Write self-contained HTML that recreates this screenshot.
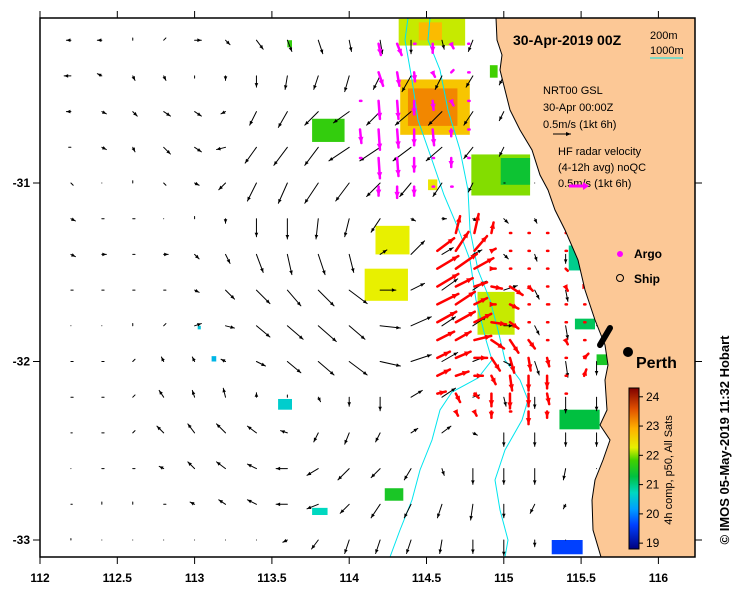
<!DOCTYPE html>
<html><head><meta charset="utf-8"><style>
html,body{margin:0;padding:0;background:#fff;}
svg{display:block;font-family:"Liberation Sans",Arial,sans-serif;}
</style></head><body>
<svg id="map" width="739" height="592" viewBox="0 0 739 592">
  <rect x="0" y="0" width="739" height="592" fill="#fff"/>
  <g id="sst"></g>
  <g id="bathy">
    <polyline fill="none" stroke="#00e5ee" stroke-width="1" points="430,18 428,40 440,70 448,110 460,150 468,190 470,230 478,270 490,300 498,330 505,360 520,380 528,400 522,420 505,450 495,480 500,510 508,540 505,557"/>
    <polyline fill="none" stroke="#00e5ee" stroke-width="1" points="408,18 405,40 412,80 418,120 432,160 444,195 458,228 470,260 476,300 486,340 492,360 478,378 452,392 440,410 432,440 420,470 412,500 400,530 390,557"/>
  </g>
  <g id="model-arrows"></g>
  <g id="mag-arrows"></g>
  <g id="red-arrows"></g>
  <polygon fill="#fcc896" stroke="#000" stroke-width="1" points="496,18 497,40 502,55 500,70 505,90 510,110 520,130 532,150 540,175 548,190 555,210 565,230 578,260 585,290 595,320 605,345 608,365 605,380 607,410 600,425 610,440 603,460 595,480 592,500 593,530 601,557 695,557 695,18"/>
  <line x1="600" y1="345" x2="610" y2="328" stroke="#000" stroke-width="6" stroke-linecap="round"/>
  <circle cx="628" cy="352" r="5" fill="#000"/>
  <text x="636" y="368" font-size="16" font-weight="bold">Perth</text>

  <text x="513" y="45" font-size="14" font-weight="bold">30-Apr-2019 00Z</text>
  <text x="650" y="39" font-size="11">200m</text>
  <text x="650" y="54" font-size="11">1000m</text>
  <line x1="650" y1="58" x2="683" y2="58" stroke="#00e5ee" stroke-width="1"/>

  <text x="543" y="94" font-size="11">NRT00 GSL</text>
  <text x="543" y="111" font-size="11">30-Apr 00:00Z</text>
  <text x="543" y="128" font-size="11">0.5m/s (1kt 6h)</text>
  <line x1="553" y1="134" x2="571" y2="134" stroke="#000" stroke-width="1"/>
  <path d="M571,134 L566,132 L566,136 Z" fill="#000"/>
  <text x="558" y="155" font-size="11">HF radar velocity</text>
  <text x="558" y="171" font-size="11">(4-12h avg) noQC</text>
  <text x="558" y="187" font-size="11">0.5m/s (1kt 6h)</text>
  <line x1="569" y1="186" x2="584" y2="186" stroke="#ff00ff" stroke-width="3"/>
  <path d="M589,186 L583,182 L583,190 Z" fill="#ff00ff"/>

  <circle cx="620" cy="254" r="3" fill="#ff00ff"/>
  <text x="634" y="258" font-size="12" font-weight="bold">Argo</text>
  <circle cx="620" cy="278" r="3.5" fill="none" stroke="#000"/>
  <text x="634" y="283" font-size="12" font-weight="bold">Ship</text>

  <defs><linearGradient id="cb" x1="0" y1="1" x2="0" y2="0">
    <stop offset="0" stop-color="#00007f"/><stop offset="0.15" stop-color="#0040ff"/>
    <stop offset="0.25" stop-color="#00a0ff"/><stop offset="0.35" stop-color="#00d8c0"/>
    <stop offset="0.45" stop-color="#00c040"/><stop offset="0.55" stop-color="#40d000"/>
    <stop offset="0.63" stop-color="#e8f000"/><stop offset="0.75" stop-color="#ffb000"/>
    <stop offset="0.87" stop-color="#e05000"/><stop offset="1" stop-color="#7f0000"/>
  </linearGradient></defs>
  <rect x="629" y="388" width="10" height="161" fill="url(#cb)" stroke="#000" stroke-width="1"/>
  <g id="cbticks" font-size="12"></g>
  <text transform="translate(672,470) rotate(-90)" text-anchor="middle" font-size="11">4h comp, p50, All Sats</text>

  <rect x="40" y="18" width="655" height="539" fill="none" stroke="#000" stroke-width="1.5"/>
  <g id="axes" font-size="12" font-weight="bold"></g>
  <text transform="translate(729,440) rotate(-90)" text-anchor="middle" font-size="13" font-weight="bold">© IMOS 05-May-2019 11:32 Hobart</text>
</svg>
<script>
// axis functions
function X(lon){return 40+(lon-112)*154.6;}
function Y(lat){return 183-(lat+31)*178.5;}
var NS='http://www.w3.org/2000/svg';
function mk(tag,attrs,parent){var e=document.createElementNS(NS,tag);for(var k in attrs)e.setAttribute(k,attrs[k]);parent.appendChild(e);return e;}

// tick data
var xTicks=[112,112.5,113,113.5,114,114.5,115,115.5,116];
var xTickLabels=["112","112.5","113","113.5","114","114.5","115","115.5","116"];
var yTicks=[-31,-32,-33];
var yTickLabels=["-31","-32","-33"];
var cbTicks=[24,23,22,21,20,19];

// model grid (0.2 deg), u/v in m/s
var gridLon=[112.2,112.4,112.6,112.8,113.0,113.2,113.4,113.6,113.8,114.0,114.2,114.4,114.6,114.8,115.0,115.2,115.4,115.6];
var gridLat=[-30.2,-30.4,-30.6,-30.8,-31.0,-31.2,-31.4,-31.6,-31.8,-32.0,-32.2,-32.4,-32.6,-32.8,-33.0];
var modelU=[
[-0.1,-0.1,0,0.05,0.15,0.1,0.15,0.1,0.1,0.05,0.05,0,0.05,-0.1,0.05,0,0,0],
[-0.15,-0.1,0.05,0.05,0,0,0,-0.05,-0.1,-0.1,-0.15,-0.2,-0.15,-0.15,-0.1,-0.05,0,0],
[-0.1,0.1,0.1,0.15,0.15,-0.1,-0.15,-0.2,-0.3,-0.35,-0.3,-0.35,-0.3,-0.2,-0.1,-0.05,0,0],
[-0.05,0.1,0.05,0.15,0.15,-0.2,-0.25,-0.3,-0.3,-0.45,-0.45,-0.4,-0.35,-0.2,-0.1,0,0,0],
[0.05,0,0,0.05,0.1,-0.15,-0.2,-0.2,-0.3,-0.3,-0.3,-0.25,-0.2,-0.1,0.03,0,0,0],
[0.1,0.05,0.05,0,0,0,0,0,-0.05,-0.1,-0.2,0.1,0.1,0.1,0.1,0.05,0,0],
[0.1,0.1,0.05,0.1,0.1,0.1,0.15,0.1,0.15,0.1,0.15,0.3,0.25,0.2,0.1,0.05,0,0],
[0.05,0.05,0.05,0.05,0.1,0.2,0.3,0.3,0.35,0.4,0.35,0.3,0.35,0.3,0.3,0.1,0.05,0],
[0,0,0,0.05,0.15,0.2,0.3,0.35,0.4,0.35,0.45,0.45,0.3,0.3,0.2,0.1,0.05,0],
[0.05,0.05,0.05,-0.05,-0.05,-0.1,0.2,0.3,0.35,0.4,0.45,0.45,0.35,0.25,0.2,0.1,0.05,0],
[0.05,0.05,0.05,-0.1,-0.05,-0.05,0,0,0.05,0,0,0.25,0.3,0.15,0.05,0,0,0],
[0.03,0.05,0.05,-0.15,-0.15,-0.2,-0.2,-0.15,-0.1,-0.1,-0.1,0.15,0.2,0.1,0,0,0,0],
[0,0.05,0.05,-0.1,-0.15,-0.2,-0.2,-0.25,-0.25,-0.25,-0.2,-0.15,0.05,0,0,0,-0.05,0],
[0.03,0,0,0.05,-0.1,-0.15,-0.2,-0.25,-0.25,-0.2,-0.2,-0.15,-0.1,-0.05,0,-0.1,-0.05,0],
[0,0,0,0,0,0,0,-0.1,-0.15,-0.1,-0.1,-0.1,-0.05,0,0,0,0,0]];
var modelV=[
[0,0,0.05,0.05,0,-0.1,-0.2,-0.25,-0.3,-0.25,-0.3,-0.3,-0.2,-0.25,-0.1,0,0,0],
[0,0.05,-0.1,-0.1,-0.05,-0.1,-0.25,-0.3,-0.3,-0.35,-0.3,-0.35,-0.3,-0.25,-0.2,-0.1,0,0],
[0,-0.05,-0.1,-0.1,-0.1,-0.05,-0.3,-0.35,-0.3,-0.25,-0.3,-0.3,-0.3,-0.3,-0.2,-0.1,0,0],
[0,-0.05,-0.1,-0.15,-0.1,-0.05,-0.35,-0.4,-0.4,-0.3,-0.3,-0.3,-0.3,-0.25,-0.2,-0.1,0,0],
[-0.05,0,0.05,-0.05,-0.05,-0.15,-0.4,-0.45,-0.45,-0.4,-0.3,-0.3,-0.3,-0.2,0,0,0,0],
[-0.05,0,0,0,0.05,-0.1,-0.4,-0.45,-0.45,-0.4,-0.3,-0.05,0,-0.05,-0.1,-0.1,0,0],
[-0.05,0,0,0,-0.1,-0.2,-0.4,-0.45,-0.45,-0.4,0.1,0.3,0.15,0.1,-0.1,-0.15,-0.2,-0.15],
[0,0,0,0,-0.05,-0.2,-0.3,-0.35,-0.35,-0.3,0,0.15,0.25,0.2,0.1,-0.2,-0.25,-0.2],
[0,0,0.05,0.05,0.05,-0.05,-0.25,-0.3,-0.35,-0.3,-0.05,0.2,0.2,0.2,0,-0.2,-0.3,0],
[0,0,0.05,0.1,0.1,0.05,-0.1,-0.25,-0.3,-0.3,-0.1,0.15,0.2,0.1,-0.1,-0.3,-0.35,-0.3],
[0,0,0.05,0.15,0.15,0.2,0.1,0.05,-0.1,-0.2,-0.3,0.15,0.2,0.05,-0.2,-0.25,-0.35,-0.3],
[0,0,0.05,0.15,0.2,0.2,0.15,0.05,-0.2,-0.25,-0.2,0.1,0.15,-0.05,-0.3,-0.3,-0.3,-0.3],
[0,0,0,0.05,0.15,0.15,0.1,0,-0.15,-0.25,-0.2,-0.25,-0.15,-0.35,-0.35,-0.35,-0.25,0],
[0,0.05,0.05,0,0.05,0.1,0.1,0,-0.1,-0.2,-0.3,-0.3,-0.3,-0.35,-0.3,-0.2,-0.1,0],
[0.03,0,0,0,0,0,0,-0.05,-0.2,-0.3,-0.3,-0.3,-0.3,-0.3,-0.35,-0.15,0,0]];

// magenta HF radar grid
var magLon=[114.07,114.19,114.31,114.42,114.54,114.66,114.77];
var magLat=[-30.22,-30.38,-30.54,-30.70,-30.86,-31.02];
var magU=[
[null,0.05,0.1,0.03,0,0.05,0.02],
[null,0.1,0.05,0.02,0.05,0.05,0.03],
[0.03,0.03,0.03,0,0.02,0.05,0.03],
[0.03,0.03,0.03,0,0.03,0,0.03],
[0.03,0.03,0.03,0,0.03,0,0.03],
[null,0,0,0,0.03,0.03,null]];
var magV=[
[null,-0.25,-0.25,0,-0.2,-0.1,0],
[null,-0.3,-0.3,-0.2,-0.1,0.05,0],
[0,-0.4,-0.4,-0.3,-0.2,-0.1,0],
[-0.3,-0.45,-0.4,-0.35,-0.35,-0.15,0],
[0,-0.45,-0.4,-0.3,0,-0.2,0],
[null,-0.2,-0.25,-0.2,0,0,null]];

// red HF radar grid
var redLon=[114.57,114.69,114.81,114.92,115.04,115.16,115.28,115.40,115.52,115.64,115.76];
var redLat=[-31.28,-31.38,-31.48,-31.58,-31.68,-31.78,-31.88,-31.98,-32.08,-32.18,-32.28];
var redU=[
[null,0.1,0.1,0.05,0.03,0.03,0.03,0.02,null,null,null],
[0.4,0.3,0.3,0.1,0.03,0.03,0.03,0.03,0.03,null,null],
[0.5,0.5,0.45,0.1,0.03,0.03,0.03,0.05,0.03,null,null],
[0.5,0.4,0.3,0.25,0.3,0.1,0.03,0.05,0.1,0.2,null],
[0.5,0.45,0.3,0.1,0.2,0.03,0.05,0.03,0.03,0.03,null],
[0.45,0.45,0.4,0.35,0.2,0.03,0.03,0.03,0.03,null,null],
[0.4,0.35,0.4,0.3,0.2,0.15,0.03,0.05,0.03,0.03,null],
[0.3,0.35,0.3,0.2,0.1,0.05,0.05,0.03,0.1,null,null],
[0.3,0.3,0.2,0.1,0.05,0,0,0.03,0.05,null,null],
[0.2,0.1,0.1,0,0,0,0.05,0.03,null,null,null],
[null,0.05,0.05,0,0.03,0,0,null,null,null,null]];
var redV=[
[null,0.4,0.45,0.25,0,0,0,0.02,null,null,null],
[0.3,0.45,0.35,0.05,0,0,0,0,0,null,null],
[0.3,0.35,0.25,0,0,0,0,-0.05,0,null,null],
[0.3,0.2,0.1,-0.05,-0.2,-0.1,0,-0.1,0,0,null],
[0.25,0.3,0.15,0,-0.1,0,0,0,0,0,null],
[0.25,0.25,0.2,-0.05,-0.15,0,0,0,0,null,null],
[0.2,0.2,0.1,-0.2,-0.3,-0.2,0,-0.1,0,0,null],
[0.15,0.15,0,-0.3,-0.35,-0.3,-0.2,0,0.1,null,null],
[0.15,0.1,0,-0.2,-0.35,-0.35,-0.3,0,0.15,null,null],
[0.05,-0.2,-0.1,-0.3,-0.35,-0.3,-0.25,0,null,null,null],
[null,-0.1,-0.1,-0.15,0,-0.3,-0.15,null,null,null,null]];

// SST patches: lon0, lat0, lon1, lat1, temperature
var sstLon0=[114.32,114.45,114.33,114.38,113.76,114.79,114.98,114.17,114.10,114.83,115.42,115.46,115.36,115.31,113.11,113.02,113.54,113.76,114.23,113.60,114.91,114.51,115.60];
var sstLat0=[-30.08,-30.10,-30.42,-30.47,-30.64,-30.84,-30.86,-31.24,-31.48,-31.61,-31.35,-31.76,-32.27,-33.00,-31.97,-31.80,-32.21,-32.82,-32.71,-30.20,-30.34,-30.98,-31.96];
var sstLon1=[114.75,114.60,114.78,114.70,113.97,115.17,115.17,114.39,114.38,115.07,115.51,115.59,115.62,115.51,113.14,113.04,113.63,113.86,114.35,113.63,114.96,114.57,115.67];
var sstLat1=[-30.23,-30.20,-30.73,-30.68,-30.77,-31.07,-31.01,-31.40,-31.66,-31.85,-31.49,-31.82,-32.38,-33.08,-32.00,-31.82,-32.27,-32.86,-32.78,-30.24,-30.41,-31.04,-32.02];
var sstTemp=[22.0,22.6,22.5,23.0,21.5,21.8,21.2,22.1,22.1,22.0,20.8,21.0,21.1,19.6,20.3,20.4,20.5,20.6,21.3,21.5,21.6,22.2,21.3];

function sstColor(t){
  var stops=[[18.8,[0,0,127]],[19.6,[0,64,255]],[20.1,[0,160,255]],[20.6,[0,216,192]],[21.1,[0,192,64]],[21.6,[64,208,0]],[22.1,[232,240,0]],[22.7,[255,176,0]],[23.4,[224,80,0]],[24.3,[127,0,0]]];
  for(var i=1;i<stops.length;i++){if(t<=stops[i][0]){var a=stops[i-1],b=stops[i],f=(t-a[0])/(b[0]-a[0]);
    var c=a[1].map(function(v,k){return Math.round(v+(b[1][k]-v)*f);});return 'rgb('+c.join(',')+')';}}
  return 'rgb(127,0,0)';
}

var sstG=document.getElementById('sst');
for(var i=0;i<sstTemp.length;i++){
  var r=mk('rect',{x:X(sstLon0[i]),y:Y(sstLat0[i]),width:X(sstLon1[i])-X(sstLon0[i]),height:Y(sstLat1[i])-Y(sstLat0[i]),fill:sstColor(sstTemp[i])},sstG);
  
  
}

function arrow(g,lon,lat,u,v,scale,color,width,head,name){
  if(u===null||v===null)return;
  var x0=X(lon),y0=Y(lat),x1=x0+u*scale,y1=y0-v*scale;
  var L=Math.sqrt((x1-x0)*(x1-x0)+(y1-y0)*(y1-y0));
  var grp=mk('g',{},g);
  
  
  mk('line',{x1:x0,y1:y0,x2:x1,y2:y1,stroke:color,'stroke-width':width,'stroke-linecap':'round'},grp);
  if(L>4){var ux=(x1-x0)/L,uy=(y1-y0)/L;
    mk('path',{d:'M'+x1+','+y1+' L'+(x1-ux*head-uy*head*0.45)+','+(y1-uy*head+ux*head*0.45)+' L'+(x1-ux*head+uy*head*0.45)+','+(y1-uy*head-ux*head*0.45)+' Z',fill:color},grp);}
}
var mg=document.getElementById('model-arrows');
for(var r=0;r<gridLat.length;r++)for(var c=0;c<gridLon.length;c++)
  arrow(mg,gridLon[c],gridLat[r],modelU[r][c],modelV[r][c],45,'#000',1,4,'model-arrow');
var magG=document.getElementById('mag-arrows');
for(var r=0;r<magLat.length;r++)for(var c=0;c<magLon.length;c++)
  arrow(magG,magLon[c],magLat[r],magU[r][c],magV[r][c],45,'#ff00ff',2.5,6,'magenta-radar-arrow');
var redG=document.getElementById('red-arrows');
for(var r=0;r<redLat.length;r++)for(var c=0;c<redLon.length;c++)
  arrow(redG,redLon[c],redLat[r],redU[r][c],redV[r][c],42,'#ff0000',2.5,6,'red-radar-arrow');

var ax=document.getElementById('axes');
for(var i=0;i<xTicks.length;i++){
  var x=X(xTicks[i]);
  mk('line',{x1:x,y1:557,x2:x,y2:564,stroke:'#000'},ax);
  mk('line',{x1:x,y1:18,x2:x,y2:11,stroke:'#000'},ax);
  var t=mk('text',{x:x,y:582,'text-anchor':'middle'},ax);t.textContent=xTickLabels[i];
  
  
}
for(var i=0;i<yTicks.length;i++){
  var y=Y(yTicks[i]);
  mk('line',{x1:40,y1:y,x2:33,y2:y,stroke:'#000'},ax);
  mk('line',{x1:695,y1:y,x2:702,y2:y,stroke:'#000'},ax);
  var t=mk('text',{x:30,y:y+4,'text-anchor':'end'},ax);t.textContent=yTickLabels[i];
  
  
}
var cbg=document.getElementById('cbticks');
for(var i=0;i<cbTicks.length;i++){
  var y=549-(cbTicks[i]-18.8)/(24.3-18.8)*161;
  mk('line',{x1:639,y1:y,x2:643,y2:y,stroke:'#000'},cbg);
  var t=mk('text',{x:646,y:y+4},cbg);t.textContent=String(cbTicks[i]);
  
  
}
</script>
</body></html>
